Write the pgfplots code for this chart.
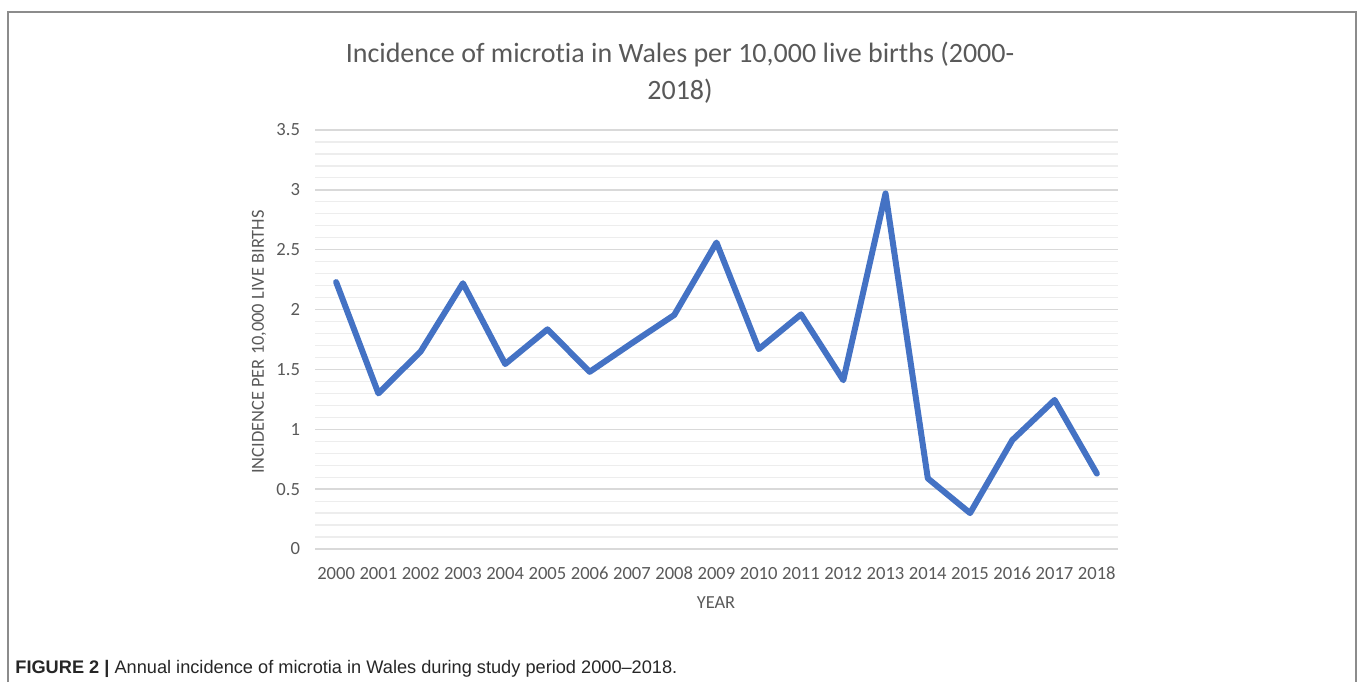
\documentclass[border=0pt]{standalone}
\usepackage{pgfplots}
\pgfplotsset{compat=1.18}
\usepackage{fontspec}
\setmainfont[Ligatures={TeX,NoCommon}]{Carlito}
\newfontfamily\capfont[Ligatures=TeX]{Liberation Sans}
\definecolor{linecol}{HTML}{4472C4}
\definecolor{txt}{HTML}{595959}
\definecolor{majgrid}{HTML}{D9D9D9}
\definecolor{mingrid}{HTML}{EDEDED}
\definecolor{border}{HTML}{8C8C8C}
\begin{document}
\begin{tikzpicture}
\useasboundingbox (0,0) rectangle (680pt,341pt);
\draw[border, line width=1pt] (4pt,0pt) -- (4pt,335pt) -- (678pt,335pt) -- (678pt,0pt);
\node[txt, align=center, font=\fontsize{14}{18.5}\selectfont] at (340pt,304.5pt) {Incidence of microtia in Wales per 10,000 live births (2000-\\2018)};
\begin{axis}[
  at={(157.5pt,66.5pt)}, anchor=south west,
  scale only axis, width=401.5pt, height=209.5pt,
  xmin=1999.5, xmax=2018.5, ymin=0, ymax=3.5,
  xtick={2000,...,2018},
  ytick={0,0.5,...,3.5},
  minor y tick num=4,
  ymajorgrids, yminorgrids,
  major grid style={majgrid, line width=0.75pt},
  minor grid style={mingrid, line width=0.6pt},
  axis line style={draw=none},
  major tick length=0pt, minor tick length=0pt,
  tick style={draw=none},
  /pgf/number format/assume math mode=true,
  xticklabel={\pgfmathprintnumber[1000 sep={}]{\tick}},
  yticklabel={\pgfmathprintnumber{\tick}},
  ticklabel style={font=\fontsize{9.3}{11}\selectfont, text=txt},
  yticklabel style={anchor=east, xshift=-4pt},
  xticklabel style={anchor=north, yshift=-5pt, text height=6.5pt, text depth=0pt},
  clip=false,
]
\addplot[linecol, line width=3pt, line join=round, line cap=round] coordinates {
(2000,2.23) (2001,1.30) (2002,1.65) (2003,2.22) (2004,1.545) (2005,1.835)
(2006,1.48) (2007,1.72) (2008,1.955) (2009,2.56) (2010,1.67) (2011,1.96)
(2012,1.41) (2013,2.97) (2014,0.59) (2015,0.30) (2016,0.91) (2017,1.245) (2018,0.63)
};
\end{axis}
\node[txt, rotate=90, font=\fontsize{9.2}{11}\selectfont] at (129.5pt,170pt) {INCIDENCE PER 10,000 LIVE BIRTHS};
\node[txt, font=\fontsize{9.2}{11}\selectfont] at (358pt,39.5pt) {YEAR};
\node[anchor=west, inner sep=0pt, font=\capfont\fontsize{9.1}{11}\selectfont, text={black!85}] at (7.5pt,6.5pt) {\textbf{FIGURE 2 |} Annual incidence of microtia in Wales during study period 2000--2018.};
\end{tikzpicture}
\end{document}
